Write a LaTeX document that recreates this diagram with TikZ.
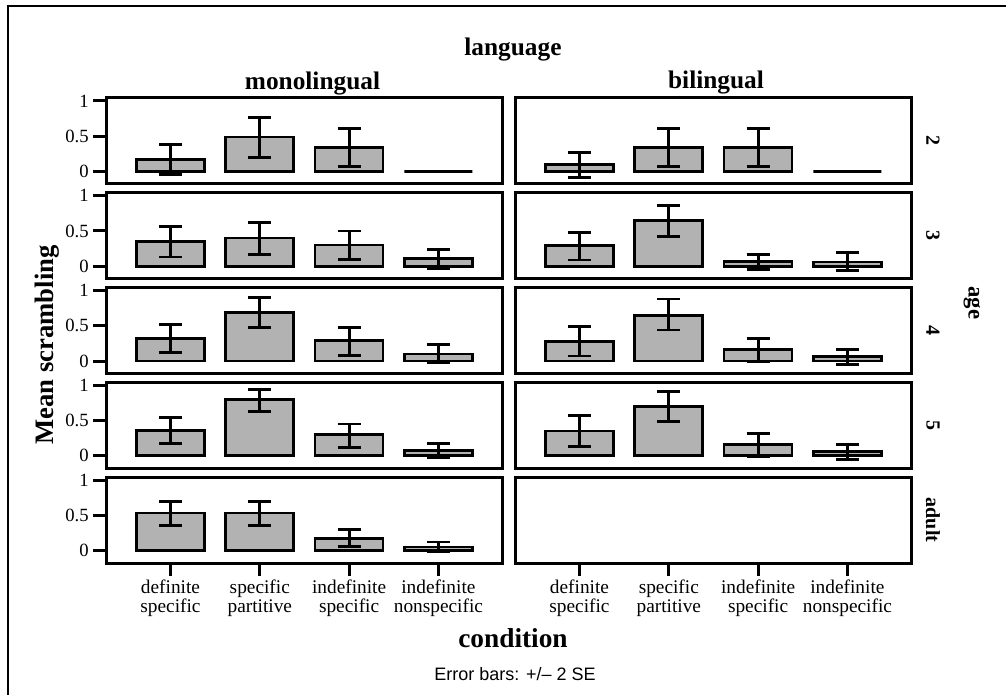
\documentclass[tikz,border=0pt]{standalone}
\usepackage{fontspec}
\setmainfont{Liberation Serif}
\newfontfamily\notefont{Liberation Sans}
\usepackage{tikz}
\definecolor{scrgray}{gray}{0.7}
\newcommand{\barhalf}{34}
\newcommand{\caphalf}{11.5}
\newcommand{\unitpx}{70.5}
\newcommand{\rowgap}{94.75}
\tikzset{
  panel/.style={line width=2.25pt},
  scrbar/.style={fill=scrgray, draw=black, line width=2pt},
  errbar/.style={line width=2.1pt},
  axtick/.style={line width=2.25pt},
  ticklab/.style={font=\fontsize{14}{16}\selectfont, inner sep=0pt, anchor=east},
  condlab/.style={font=\fontsize{14.5}{13.8}\selectfont, align=center, inner sep=0pt, anchor=north},
  striplab/.style={font=\fontsize{15}{17}\selectfont\bfseries, rotate=-90, inner sep=0pt},
  titlelab/.style={font=\fontsize{19}{21}\selectfont\bfseries, inner sep=0pt, anchor=base}
}

\begin{document}
\begin{tikzpicture}[x=0.75pt, y=-0.75pt]

\useasboundingbox (0,0) rectangle (1006,695);
\draw [line width=1.5pt] (7.5,695) -- (7.5,6) -- (1006,6);

\foreach \r in {1,...,5}
  \foreach \c in {0,1} {
    \pgfmathsetmacro{\lft}{106+409*\c}
    \pgfmathsetmacro{\tp}{98+\rowgap*(\r-1)}
    \draw [panel] (\lft,\tp) rectangle +(396,86);
  }

\foreach \r/\c/\vals in {
  1/0/{0.17/-0.04/0.38, 0.49/0.20/0.77, 0.34/0.07/0.61, 0/0/0},
  1/1/{0.10/-0.08/0.27, 0.34/0.07/0.61, 0.34/0.07/0.61, 0/0/0},
  2/0/{0.35/0.13/0.56, 0.40/0.17/0.62, 0.30/0.10/0.50, 0.11/-0.03/0.24},
  2/1/{0.29/0.09/0.48, 0.65/0.42/0.86, 0.07/-0.05/0.17, 0.06/-0.06/0.19},
  3/0/{0.32/0.12/0.52, 0.69/0.48/0.90, 0.29/0.08/0.47, 0.10/-0.02/0.23},
  3/1/{0.28/0.07/0.49, 0.65/0.44/0.88, 0.16/-0.01/0.32, 0.06/-0.05/0.16},
  4/0/{0.36/0.17/0.54, 0.80/0.63/0.94, 0.30/0.12/0.45, 0.07/-0.02/0.17},
  4/1/{0.35/0.13/0.57, 0.70/0.49/0.91, 0.155/-0.01/0.31, 0.06/-0.05/0.155},
  5/0/{0.53/0.36/0.69, 0.53/0.36/0.69, 0.17/0.06/0.30, 0.05/-0.02/0.12}} {
  \pgfmathsetmacro{\lft}{106+409*\c}
  \pgfmathsetmacro{\yz}{98+\rowgap*(\r-1)+73.5}
  \foreach \m/\l/\h [count=\i] in \vals {
    \pgfmathsetmacro{\cx}{\lft+64.5+89.3*(\i-1)}
    \pgfmathsetmacro{\ym}{\yz-\unitpx*(\m)}
    \pgfmathsetmacro{\yl}{\yz-\unitpx*(\l)}
    \pgfmathsetmacro{\yh}{\yz-\unitpx*(\h)}
    \filldraw [scrbar] (\cx-\barhalf,\yz) rectangle (\cx+\barhalf,\ym);
    \draw [errbar] (\cx-\caphalf,\yl) -- (\cx+\caphalf,\yl)
      (\cx,\yl) -- (\cx,\yh)
      (\cx-\caphalf,\yh) -- (\cx+\caphalf,\yh);
  }
}

\foreach \r/\age in {1/2, 2/3, 3/4, 4/5, 5/adult} {
  \pgfmathsetmacro{\yz}{98+\rowgap*(\r-1)+73.5}
  \pgfmathsetmacro{\ymid}{98+\rowgap*(\r-1)+43}
  \foreach \v/\t [count=\k] in {0/0, 0.5/0.5, 1/1} {
    \pgfmathsetmacro{\yv}{\yz-\unitpx*\v}
    \draw [axtick] (93,\yv) -- (106,\yv);
    \node [ticklab] (ytl\r\k) at (89,\yv) {\t};
  }
  \node [striplab] (age\r) at (933,\ymid) {\age};
}

\foreach \c in {0,1}
  \foreach \t [count=\i] in {definite\\specific, specific\\partitive, indefinite\\specific, indefinite\\nonspecific} {
    \pgfmathsetmacro{\cx}{106+409*\c+64.5+89.3*(\i-1)}
    \draw [axtick] (\cx,563) -- (\cx,576);
    \node [condlab] (cond\c\i) at (\cx,580) {\t};
  }

\node [titlelab] (language) at (513,56) {language};
\node [titlelab] (mono) at (312.5,89.5) {monolingual};
\node [titlelab] (bili) at (716,89) {bilingual};
\node [titlelab, font=\fontsize{20.5}{22}\selectfont\bfseries] (condition) at (513,647) {condition};
\node [font=\fontsize{20}{22}\selectfont\bfseries, rotate=90, inner sep=0pt] (meanscr) at (47,345) {Mean scrambling};
\node [striplab, font=\fontsize{17}{19}\selectfont\bfseries] (agetitle) at (972,303) {age};
\node [font=\notefont\fontsize{13.5}{15}\selectfont, inner sep=0pt, anchor=base] (errnote) at (515,680) {Error bars: +/– 2 SE};
\end{tikzpicture}
\end{document}
